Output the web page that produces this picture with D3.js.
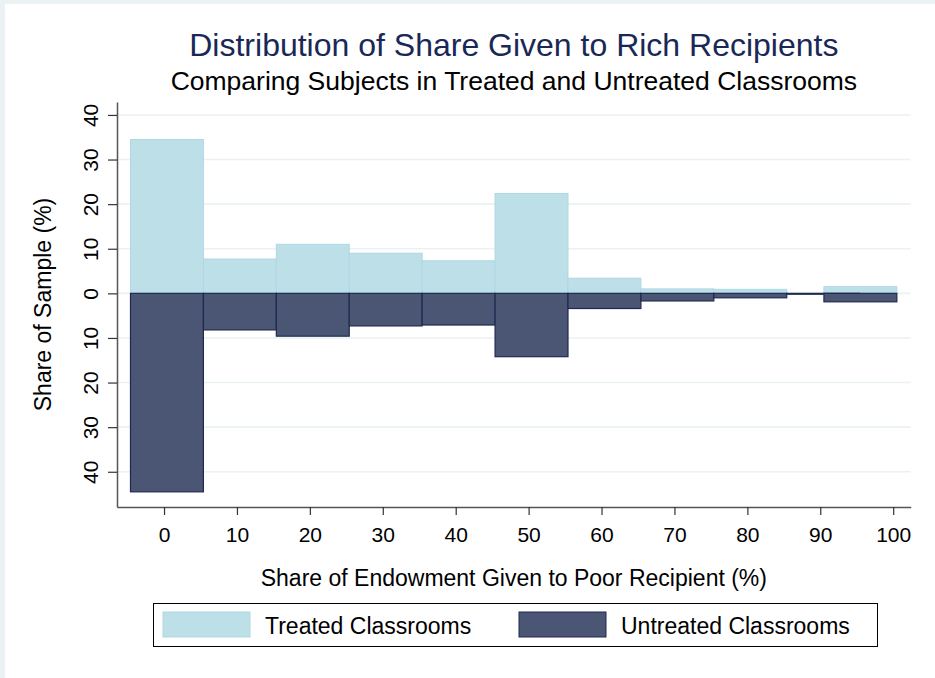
<!DOCTYPE html>
<html>
<head>
<meta charset="utf-8">
<script src="https://cdn.jsdelivr.net/npm/d3@7"></script>
<style>
  body { margin: 0; background: #fff; }
  text { font-family: "Liberation Sans", Arial, sans-serif; }
</style>
</head>
<body>
<svg id="chart" width="935" height="678"></svg>
<script>
// bin centers (share given, %) and shares of sample (%)
var binCenters = [0.4, 10.4, 20.4, 30.4, 40.4, 50.4, 60.4, 70.4, 80.4, 90.4, 95.5];
var treatedVals = [34.5, 7.7, 11.0, 9.0, 7.3, 22.4, 3.4, 1.0, 0.9, 0, 1.5];
var untreatedVals = [44.5, 8.2, 9.6, 7.3, 7.1, 14.2, 3.4, 1.7, 1.0, 0.2, 1.9];
var binWidth = 10;

var xTicks = [0, 10, 20, 30, 40, 50, 60, 70, 80, 90, 100];
var yTicks = [-40, -30, -20, -10, 0, 10, 20, 30, 40];

var svg = d3.select("#chart");

// frame like the exported graph
svg.append("rect").attr("width", 935).attr("height", 678).attr("fill", "#eaf2f4");
svg.append("rect").attr("x", 5).attr("y", 4).attr("width", 935).attr("height", 678).attr("fill", "#fff");

var pLeft = 117, pRight = 910.7, pTop = 102, pBottom = 507;

var x = d3.scaleLinear().domain([-6.45, 102.4]).range([pLeft, pRight]);
var y = d3.scaleLinear().domain([-47.9, 42.9]).range([pBottom, pTop]);

// gridlines
svg.append("g")
  .selectAll("line")
  .data(yTicks)
  .enter().append("line")
  .attr("x1", pLeft + 1).attr("x2", pRight)
  .attr("y1", function(d){ return y(d) }).attr("y2", function(d){ return y(d) })
  .attr("stroke", "#eaf2f4").attr("stroke-width", 1.6);

var treated = binCenters.map(function(c, i){ return {c: c, v: treatedVals[i]} });
var untreated = binCenters.map(function(c, i){ return {c: c, v: untreatedVals[i]} });

svg.append("g").selectAll("rect")
  .data(treated)
  .enter().append("rect")
  .attr("x", function(d){ return x(d.c - binWidth/2) })
  .attr("width", function(d){ return x(d.c + binWidth/2) - x(d.c - binWidth/2) })
  .attr("y", function(d){ return y(d.v) })
  .attr("height", function(d){ return y(0) - y(d.v) })
  .attr("fill", "#bddfe8")
  .attr("stroke", "#afd7e3").attr("stroke-width", 1);

svg.append("g").selectAll("rect")
  .data(untreated)
  .enter().append("rect")
  .attr("x", function(d){ return x(d.c - binWidth/2) })
  .attr("width", function(d){ return x(d.c + binWidth/2) - x(d.c - binWidth/2) })
  .attr("y", y(0))
  .attr("height", function(d){ return y(-d.v) - y(0) })
  .attr("fill", "#4b5674")
  .attr("stroke", "#1f2a50").attr("stroke-width", 1.2);

// axes
var xAxis = svg.append("g")
  .attr("transform", "translate(0," + pBottom + ")")
  .call(d3.axisBottom(x).tickValues(xTicks).tickSize(8).tickPadding(12).tickSizeOuter(0));
xAxis.select(".domain").attr("stroke", "#555").attr("stroke-width", 1.5);
xAxis.selectAll(".tick line").attr("stroke", "#333").attr("stroke-width", 1.2);
xAxis.selectAll(".tick text").attr("font-size", 21).attr("fill", "#000")
  .attr("font-family", "Liberation Sans, Arial, sans-serif");

var yAxis = svg.append("g")
  .attr("transform", "translate(" + pLeft + ",0)")
  .call(d3.axisLeft(y).tickValues(yTicks).tickSize(9).tickSizeOuter(0).tickFormat(function(d){ return Math.abs(d) }));
yAxis.select(".domain").attr("stroke", "#555").attr("stroke-width", 1.5);
yAxis.selectAll(".tick line").attr("stroke", "#333").attr("stroke-width", 1.2);
yAxis.selectAll(".tick text")
  .attr("font-size", 21).attr("fill", "#000")
  .attr("font-family", "Liberation Sans, Arial, sans-serif")
  .attr("x", null).attr("dy", null)
  .attr("text-anchor", "middle")
  .attr("transform", "translate(-19,0) rotate(-90)")
  .attr("y", 0);

// titles
var cx = (pLeft + pRight) / 2;
svg.append("text").attr("x", cx).attr("y", 56)
  .attr("text-anchor", "middle").attr("font-size", 32).attr("fill", "#1a2856")
  .text("Distribution of Share Given to Rich Recipients");
svg.append("text").attr("x", cx).attr("y", 90)
  .attr("text-anchor", "middle").attr("font-size", 26.5).attr("fill", "#000")
  .text("Comparing Subjects in Treated and Untreated Classrooms");

svg.append("text").attr("x", cx).attr("y", 586)
  .attr("text-anchor", "middle").attr("font-size", 23).attr("fill", "#000")
  .text("Share of Endowment Given to Poor Recipient (%)");

svg.append("text")
  .attr("transform", "translate(51," + ((pTop + pBottom) / 2) + ") rotate(-90)")
  .attr("text-anchor", "middle").attr("font-size", 23).attr("fill", "#000")
  .text("Share of Sample (%)");

// legend
var legend = svg.append("g");
legend.append("rect").attr("x", 153.5).attr("y", 603.5).attr("width", 724).attr("height", 43)
  .attr("fill", "#fff").attr("stroke", "#000").attr("stroke-width", 1);
var legItems = [
  {label: "Treated Classrooms", fill: "#bddfe8", stroke: "#afd7e3", x: 163},
  {label: "Untreated Classrooms", fill: "#4b5674", stroke: "#1f2a50", x: 519}
];
legItems.forEach(function(it){
  legend.append("rect").attr("x", it.x).attr("y", 612).attr("width", 87).attr("height", 25)
    .attr("fill", it.fill).attr("stroke", it.stroke).attr("stroke-width", 1);
  legend.append("text").attr("x", it.x + 102).attr("y", 634).attr("font-size", 23)
    .attr("fill", "#000").text(it.label);
});
</script>
</body>
</html>
